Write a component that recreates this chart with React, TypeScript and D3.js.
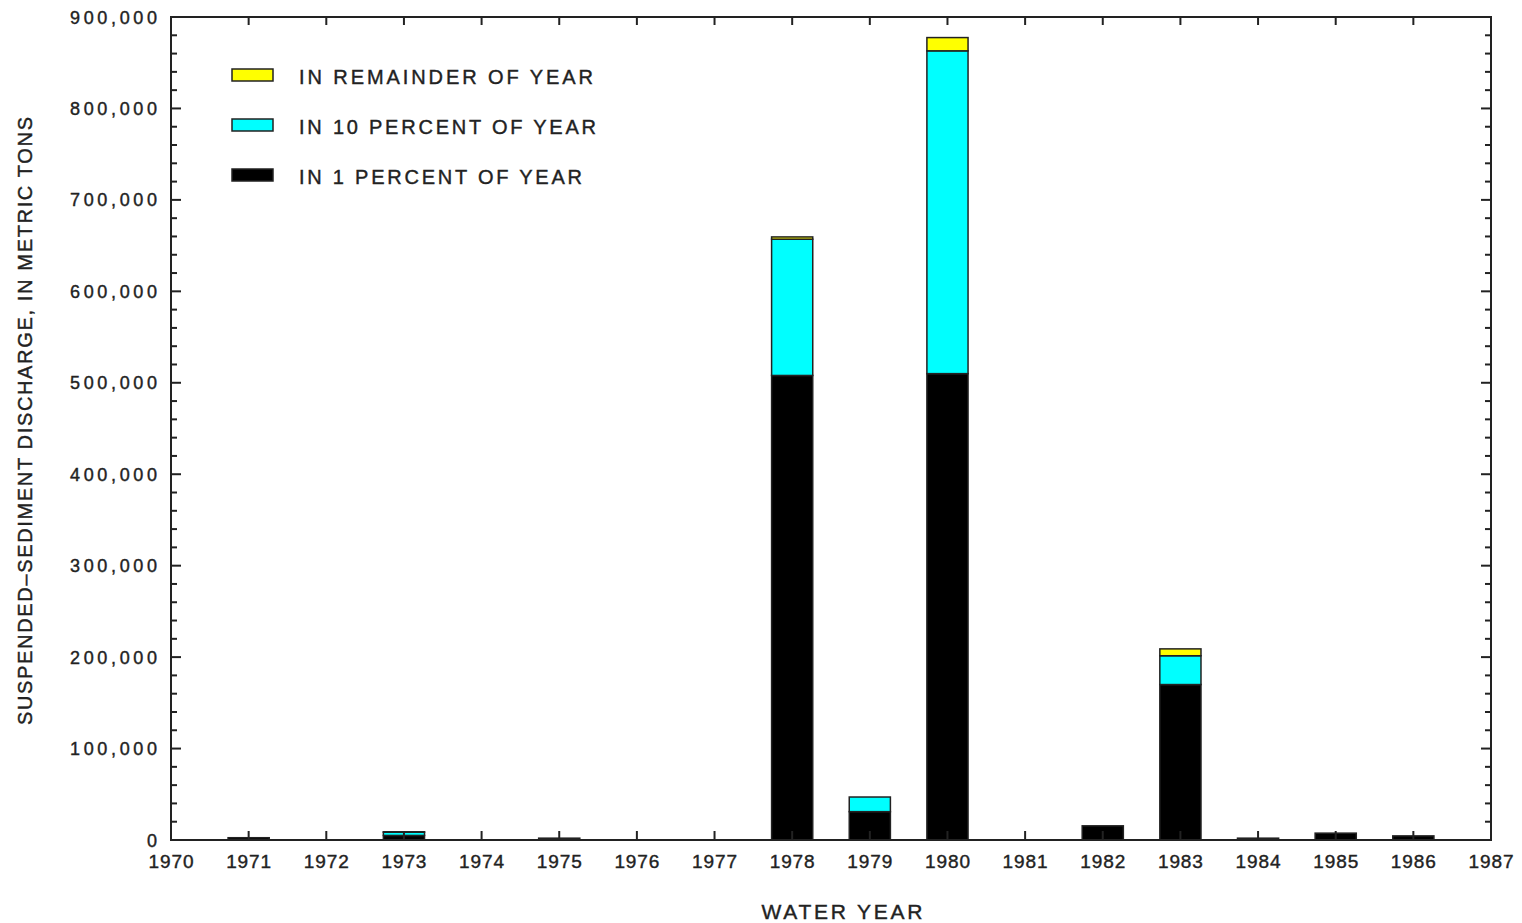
import * as d3 from 'd3';

const years = [1971, 1972, 1973, 1974, 1975, 1976, 1977, 1978, 1979, 1980, 1981, 1982, 1983, 1984, 1985, 1986];
const inOnePercent = [2500, 0, 5000, 0, 2000, 0, 0, 508000, 31000, 510000, 0, 15500, 170000, 2000, 7500, 4500];
const inTenPercent = [0, 0, 3500, 0, 0, 0, 0, 149000, 16000, 353000, 0, 0, 31500, 0, 0, 0];
const inRemainder = [0, 0, 500, 0, 0, 0, 0, 2500, 0, 14500, 0, 0, 7500, 0, 0, 0];
const yearTicks = d3.range(1970, 1988);
const valueTicks = d3.range(0, 900001, 100000);
const minorTicks = d3.range(0, 900001, 20000);

const legendItems = [
  { label: 'IN REMAINDER OF YEAR', color: '#ffff00', len: 294 },
  { label: 'IN 10 PERCENT OF YEAR', color: '#00ffff', len: 297 },
  { label: 'IN 1 PERCENT OF YEAR', color: '#000000', len: 283 },
];

const W = 1522;
const H = 923;
const m = { left: 171, right: 1491, top: 17, bottom: 840 };
const ink = '#222';
const font = '"Liberation Sans", Arial, sans-serif';
// slight stroke so the text reads as heavy as the plotter font
const textStroke = { stroke: ink, strokeWidth: 0.4 };

export default function App() {
  const x = d3.scaleLinear().domain([1970, 1987]).range([m.left, m.right]);
  const y = d3.scaleLinear().domain([0, 900000]).range([m.bottom, m.top]);
  const bw = x(1970.53) - x(1970);

  const rows = years.map((yr, i) => ({ year: yr, p1: inOnePercent[i], p10: inTenPercent[i], rem: inRemainder[i] }));
  const keys = ['p1', 'p10', 'rem'];
  const colors: Record<string, string> = { p1: '#000000', p10: '#00ffff', rem: '#ffff00' };
  const series = d3.stack<any>().keys(keys)(rows);

  const fmt = d3.format(',');

  return (
    <div style={{ position: 'absolute', left: 0, top: 0 }}>
      <svg width={W} height={H} style={{ display: 'block', background: '#fff' }}>
        {/* bars */}
        {series.map((s) =>
          s.map((d, i) => {
            const v = d[1] - d[0];
            if (v <= 0) return null;
            const yr = years[i];
            return (
              <rect
                key={s.key + yr}
                x={x(yr) - bw / 2}
                y={y(d[1])}
                width={bw}
                height={y(d[0]) - y(d[1])}
                fill={colors[s.key]}
                stroke={ink}
                strokeWidth={1.5}
              />
            );
          })
        )}

        {/* frame */}
        <rect x={m.left} y={m.top} width={m.right - m.left} height={m.bottom - m.top} fill="none" stroke={ink} strokeWidth={2} />

        {/* left / right ticks */}
        {minorTicks.map((v) => {
          const major = v % 100000 === 0;
          const len = major ? 10 : 6;
          return (
            <g key={'yt' + v} stroke={ink} strokeWidth={2}>
              <line x1={m.left} x2={m.left + len} y1={y(v)} y2={y(v)} />
              <line x1={m.right} x2={m.right - len} y1={y(v)} y2={y(v)} />
            </g>
          );
        })}

        {/* top / bottom ticks */}
        {yearTicks.map((yr) => (
          <g key={'xt' + yr} stroke={ink} strokeWidth={2}>
            <line x1={x(yr)} x2={x(yr)} y1={m.top} y2={m.top + 8} />
            <line x1={x(yr)} x2={x(yr)} y1={m.bottom} y2={m.bottom - 9} />
          </g>
        ))}

        {/* y tick labels */}
        {valueTicks.map((v) => (
          <text
            key={'yl' + v}
            x={157}
            y={y(v) + 6.5}
            textAnchor="end"
            fontFamily={font}
            fontSize={18}
            fill={ink}
            {...textStroke}
            textLength={v === 0 ? undefined : 87}
            lengthAdjust="spacing"
          >
            {fmt(v)}
          </text>
        ))}

        {/* x tick labels */}
        {yearTicks.map((yr) => (
          <text
            key={'xl' + yr}
            x={x(yr)}
            y={868}
            textAnchor="middle"
            fontFamily={font}
            fontSize={19}
            fill={ink}
            {...textStroke}
            textLength={45}
            lengthAdjust="spacing"
          >
            {yr}
          </text>
        ))}

        {/* axis titles */}
        <text x={842} y={919} textAnchor="middle" fontFamily={font} fontSize={21} fill={ink} {...textStroke} textLength={161} lengthAdjust="spacing">
          WATER YEAR
        </text>
        <text
          transform={`translate(32,421) rotate(-90)`}
          textAnchor="middle"
          fontFamily={font}
          fontSize={20}
          fill={ink}
          {...textStroke}
          textLength={608}
          lengthAdjust="spacing"
        >
          SUSPENDED–SEDIMENT DISCHARGE, IN METRIC TONS
        </text>

        {/* legend */}
        {legendItems.map((it, i) => (
          <g key={it.label} transform={`translate(0,${75 + i * 50})`}>
            <rect x={232} y={-6} width={41} height={12} fill={it.color} stroke={ink} strokeWidth={1.5} />
            <text x={299} y={9} fontFamily={font} fontSize={20} fill={ink} {...textStroke} textLength={it.len} lengthAdjust="spacing">
              {it.label}
            </text>
          </g>
        ))}
      </svg>
    </div>
  );
}
